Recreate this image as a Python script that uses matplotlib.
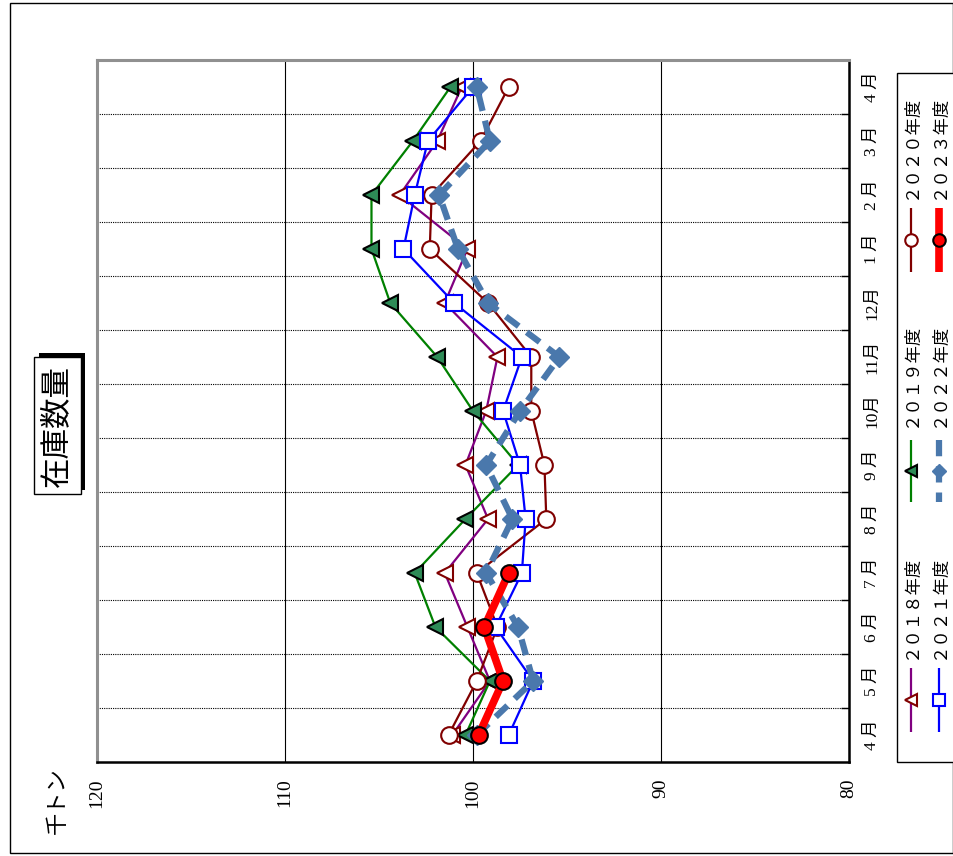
import numpy as np
import matplotlib.pyplot as plt
from matplotlib.lines import Line2D
from matplotlib.patches import Rectangle

# data (chart is drawn turned 90 degrees, months run bottom -> top)
months = ['4 月', '5 月', '6 月', '7 月', '8 月', '9 月', '10月', '11月',
          '12月', '1 月', '2 月', '3 月', '4 月']
v2018 = [101.1, 99.1, 100.3, 101.5, 99.2, 100.4, 99.3, 98.7, 101.5, 100.3, 103.9, 101.9, 100.6]
v2019 = [100.4, 99.1, 102.0, 103.1, 100.4, 97.6, 100.0, 101.9, 104.4, 105.4, 105.4, 103.2, 101.2]
v2020 = [101.3, 99.8, 98.7, 99.8, 96.1, 96.2, 96.9, 96.9, 99.2, 102.3, 102.2, 99.6, 98.1]
v2021 = [98.1, 96.8, 98.8, 97.4, 97.2, 97.5, 98.4, 97.4, 101.0, 103.7, 103.1, 102.4, 100.0]
v2022 = [99.8, 96.8, 97.6, 99.3, 97.9, 99.3, 97.5, 95.4, 99.2, 100.8, 101.8, 99.1, 99.8]
v2023 = [99.7, 98.4, 99.4, 98.1]
labels = ['２０１８年度', '２０１９年度', '２０２０年度', '２０２１年度', '２０２２年度', '２０２３年度']
xticks = [120, 110, 100, 90, 80]

styles = [
    dict(color='#800080', lw=1.6, ls='-', marker='<', mfc='white', mec='#800000', ms=11, mew=1.5),
    dict(color='#008000', lw=1.6, ls='-', marker='<', mfc='#2E8B57', mec='black', ms=12, mew=1.5),
    dict(color='#800000', lw=1.6, ls='-', marker='o', mfc='white', mec='#800000', ms=12, mew=1.5),
    dict(color='#0000FF', lw=1.6, ls='-', marker='s', mfc='white', mec='#0000FF', ms=11, mew=1.5),
    dict(color='#4A78AC', lw=4.5, ls=(0, (2.6, 1.6)), marker='D', mfc='#4A78AC', mec='#4A78AC', ms=10, mew=1),
    dict(color='#FF0000', lw=5.5, ls='-', marker='o', mfc='#FF0000', mec='black', ms=12, mew=1.5),
]

W, H = 954, 856
def fx(x):
    return x / W
def fy(y):
    return 1 - y / H

fig = plt.figure(figsize=(W / 100, H / 100), dpi=100)
ax = fig.add_axes([fx(97), fy(762), fx(849) - fx(97), fy(60) - fy(762)])

series = [v2018, v2019, v2020, v2021, v2022, v2023]
for vals, st in zip(series, styles):
    ax.plot(vals, np.arange(len(vals)), color=st['color'], lw=st['lw'], ls=st['ls'],
            marker=st['marker'], mfc=st['mfc'], mec=st['mec'], ms=st['ms'], mew=st['mew'],
            solid_capstyle='butt', dash_capstyle='butt')

ax.set_xlim(120, 80)
ax.set_ylim(-0.5, 12.5)
ax.set_xticks(xticks)
ax.set_xticklabels([str(t) for t in xticks], rotation=90, family='Liberation Serif', fontsize=14)
ax.tick_params(axis='x', length=0, pad=12)
ax.yaxis.tick_right()
ax.set_yticks(range(13))
ax.set_yticklabels(months, rotation=90, va='center', fontsize=12.5,
                   family=['Liberation Serif', 'Noto Sans CJK JP'])
ax.tick_params(axis='y', which='major', length=0, pad=11)
ax.set_yticks(np.arange(0.5, 12), minor=True)
ax.tick_params(axis='y', which='minor', direction='in', length=6, width=1, right=True, left=False)
ax.grid(axis='x', color='black', lw=0.8)
ax.grid(axis='y', which='minor', color='black', lw=0.8, ls=(0, (1, 1)))
ax.set_axisbelow(True)
for s in ['right', 'bottom']:
    ax.spines[s].set_color('black')
    ax.spines[s].set_linewidth(1.8)
for s in ['top', 'left']:
    ax.spines[s].set_color('#909090')
    ax.spines[s].set_linewidth(2.2)

# outer frame
fig.add_artist(Rectangle((fx(10), fy(853)), fx(943), fy(3) - fy(853), transform=fig.transFigure,
                         fill=False, ec='black', lw=1))

# title box with shadow
fig.add_artist(Rectangle((fx(39), fy(490)), fx(46), fy(353) - fy(490), transform=fig.transFigure,
                         fc='black', ec='black', lw=0))
fig.add_artist(Rectangle((fx(34), fy(494)), fx(47), fy(357) - fy(494), transform=fig.transFigure,
                         fc='white', ec='black', lw=1))
fig.text(fx(57), fy(426), '在庫数量', rotation=90, ha='center', va='center',
         fontsize=22, family='Noto Sans CJK JP')

# unit
fig.text(fx(57), fy(801), '千トン', rotation=90, ha='center', va='center',
         fontsize=16, family='Noto Sans CJK JP')

# legend
fig.add_artist(Rectangle((fx(897), fy(762)), fx(60), fy(73) - fy(762), transform=fig.transFigure,
                         fc='white', ec='black', lw=1))
cols = [911, 911, 911, 939, 939, 939]
seg = [(668, 732), (440, 502), (208, 272)] * 2
txt_y = [607, 375, 147] * 2
for i, st in enumerate(styles):
    x = cols[i]
    y0, y1 = seg[i]
    fig.add_artist(Line2D([fx(x), fx(x)], [fy(y0), fy(y1)], transform=fig.transFigure,
                          color=st['color'], lw=st['lw'], ls=st['ls'], solid_capstyle='butt'))
    fig.add_artist(Line2D([fx(x)], [fy((y0 + y1) / 2)], transform=fig.transFigure,
                          marker=st['marker'], mfc=st['mfc'], mec=st['mec'],
                          ms=st['ms'] * 0.75, mew=st['mew'], ls='none'))
    fig.text(fx(x), fy(txt_y[i]), labels[i], rotation=90, ha='center', va='center',
             fontsize=12.5, family='Noto Sans CJK JP')

plt.savefig('out.png', dpi=100)
